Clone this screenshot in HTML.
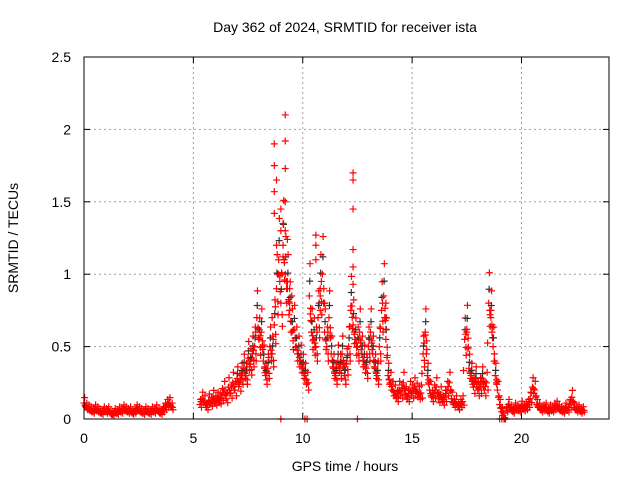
<!DOCTYPE html>
<html><head><meta charset="utf-8"><style>
body{margin:0;background:#fff;}
svg{display:block;font-family:"Liberation Sans",sans-serif;}
</style></head><body>
<svg id="chart" width="640" height="480" viewBox="0 0 640 480">
<text x="345" y="32" font-size="14" text-anchor="middle">Day 362 of 2024, SRMTID for receiver ista</text>
<text x="18" y="238" font-size="14" text-anchor="middle" transform="rotate(-90 18 238)">SRMTID / TECUs</text>
<text x="345" y="471" font-size="14" text-anchor="middle">GPS time / hours</text>
<g id="grid"></g>
<g id="ticks"></g>
<g id="marks"></g>
<rect x="84" y="57" width="525" height="362" fill="none" stroke="#000" stroke-width="1"/>
</svg>
<script>
const xTicks=[0,5,10,15,20];
const yTicks=[0,0.5,1,1.5,2,2.5];
const yTickLabels=["0","0.5","1","1.5","2","2.5"];
const segStarts=[0,5.3,10.3,12.3,19.3];
const segValues=[
[.11,.08,.07,.06,.05,.07,.06,.05,.04,.06,.05,.06,.04,.03,.05,.04,.06,.05,.07,.06,.05,.06,.04,.05,.07,.06,.05,.04,.06,.05,.04,.06,.05,.07,.05,.04,.06,.08,.1,.11,.08],
[.1,.14,.12,.08,.13,.11,.15,.12,.14,.13,.16,.2,.14,.22,.18,.25,.2,.28,.24,.3,.35,.3,.42,.38,.45,.5,.7,.55,.6,.4,.3,.35,.5,.45,.65,.9,1.1,.8,1.2,1.0,.9,.75,.6,.62,.5,.45,.4,.35,.3,.25],
[.85,.6,.55,.5,.7,.9,1.0,.6,.5,.7,.45,.35,.3,.4,.35,.45,.3,.38,.5,.78],
[.65,.55,.5,.6,.45,.4,.35,.5,.6,.45,.35,.3,.5,.75,.85,.55,.3,.25,.2,.18,.15,.2,.18,.25,.17,.15,.2,.18,.22,.19,.17,.18,.45,.6,.3,.2,.15,.18,.22,.14,.17,.12,.15,.2,.25,.14,.1,.12,.08,.1,.12,.55,.62,.35,.3,.22,.28,.2,.22,.28,.2,.25,.8,.7,.5,.3,.2,.1,.05,.0],
[.06,.1,.07,.05,.08,.07,.06,.09,.07,.08,.1,.14,.22,.2,.1,.08,.06,.07,.08,.05,.07,.06,.08,.09,.07,.06,.05,.08,.06,.1,.15,.08,.06,.07,.05,.06]
];
const extraHours=[8.7,8.7,8.7,8.7,8.8,8.8,9.0,9.0,9.1,9.1,9.2,9.2,9.2,9.2,9.2,9.3,9.3,9.4,9.4,10.6,10.6,10.6,10.8,10.8,12.2,12.3,12.3,12.3,12.3,12.3,12.3,13.8,13.8,13.8,15.6,17.5,18.6,18.65,9.0,10.1,10.2,12.5,19.0,19.1,8.6,8.9,9.5,11.0];
const extraTecu=[1.9,1.75,1.57,1.42,1.65,1.2,1.3,1.45,1.35,1.12,2.1,1.92,1.73,1.5,1.3,1.24,0.95,0.9,0.8,1.27,1.2,1.1,0.85,0.75,0.75,1.7,1.65,1.45,1.17,1.05,0.93,0.8,0.7,0.62,0.58,0.6,0.75,0.65,0,0,0,0,0,0,0.7,1.0,0.85,0.8];
const X=h=>84+h*(525/24);
const Y=v=>419-v*(362/2.5);
const NS="http://www.w3.org/2000/svg";
const grid=document.getElementById('grid'),ticks=document.getElementById('ticks'),marks=document.getElementById('marks');
function line(g,x1,y1,x2,y2,st,dash){const l=document.createElementNS(NS,'line');l.setAttribute('x1',x1);l.setAttribute('y1',y1);l.setAttribute('x2',x2);l.setAttribute('y2',y2);l.setAttribute('stroke',st);if(dash)l.setAttribute('stroke-dasharray',dash);g.appendChild(l);return l;}
function text(x,y,s,anchor){const t=document.createElementNS(NS,'text');t.setAttribute('x',x);t.setAttribute('y',y);t.setAttribute('font-size','14');t.setAttribute('text-anchor',anchor);t.textContent=s;document.getElementById('chart').appendChild(t);return t;}
xTicks.forEach(v=>{const x=X(v);
 if(v>0){const g=line(grid,x,57,x,419,'#a0a0a0','2,3');}
 line(ticks,x,419,x,413,'#000');line(ticks,x,57,x,63,'#000');
 const t=text(x,443,String(v),'middle');
 
 });
yTicks.forEach((v,i)=>{const y=Y(v);
 if(v>0&&v<2.5){const g=line(grid,84,y,609,y,'#a0a0a0','2,3');}
 line(ticks,84,y,90,y,'#000');line(ticks,609,y,603,y,'#000');
 const t=text(71,y+5,yTickLabels[i],'end');
 
 });
function plus(h,v,col){const x=X(h),y=Y(v);const p=document.createElementNS(NS,'path');
 p.setAttribute('d',`M${x-3.5},${y}h7M${x},${y-3.5}v7`);p.setAttribute('stroke',col||'#f00');p.setAttribute('stroke-width','1.2');
 
 
 marks.appendChild(p);}
segStarts.forEach((s,k)=>{const vals=segValues[k];vals.forEach((v,i)=>{const h=s+i*0.1;const nv=vals[i+1]!==undefined?vals[i+1]:v;
 plus(h,v);plus(h+0.05,(v+nv)/2);
 plus(h+0.03,v*1.25+0.01);plus(h+0.07,v*0.8);
 if(v>0.25){plus(h+0.02,v*1.12,'#333');plus(h+0.06,v*0.9);}});});
extraHours.forEach((h,i)=>plus(h,extraTecu[i]));
</script>
</body></html>
